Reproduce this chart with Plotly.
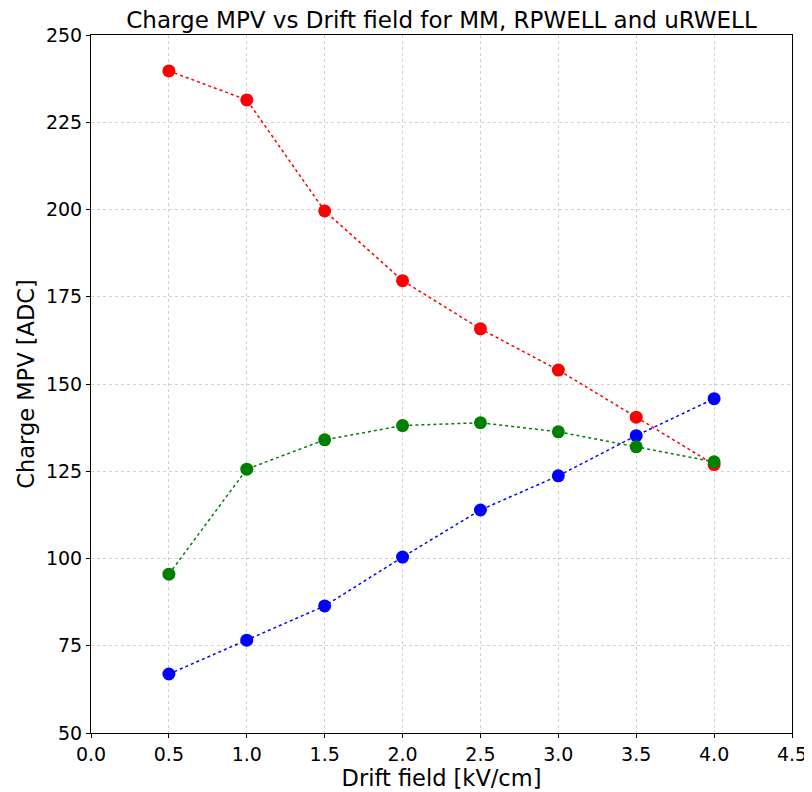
import plotly.graph_objects as go

drift_field = [0.5, 1.0, 1.5, 2.0, 2.5, 3.0, 3.5, 4.0]
mm_mpv = [239.7, 231.4, 199.6, 179.6, 165.8, 154.0, 140.5, 126.9]
rpwell_mpv = [66.9, 76.6, 86.4, 100.4, 113.9, 123.7, 135.2, 145.8]
urwell_mpv = [95.5, 125.6, 134.0, 138.1, 138.9, 136.3, 132.0, 127.7]

series = [
    ("MM", mm_mpv, "red"),
    ("RPWELL", rpwell_mpv, "blue"),
    ("uRWELL", urwell_mpv, "green"),
]

fig = go.Figure()
for name, vals, col in series:
    fig.add_trace(go.Scatter(
        x=drift_field, y=vals, name=name, mode="lines+markers",
        line=dict(color=col, width=1.5, dash="dot"),
        marker=dict(color=col, size=13),
    ))

axis_common = dict(
    showline=True, linecolor="black", linewidth=1, mirror=True,
    ticks="outside", ticklen=4, tickcolor="black",
    showgrid=True, gridcolor="#d2d2d2", griddash="dot", gridwidth=1,
    zeroline=False, tickfont=dict(size=19, color="black"),
    automargin=False,
)

# page body has an 8px default margin; figure is sized to compensate
fig.update_layout(
    width=804, height=784,
    margin=dict(l=83, r=20, t=27, b=59),
    paper_bgcolor="white", plot_bgcolor="white",
    font=dict(family="DejaVu Sans", color="black"),
    showlegend=False,
    title=dict(text="Charge MPV vs Drift field for MM, RPWELL and uRWELL",
               x=0.5, xref="paper", xanchor="center",
               y=1, yref="paper", yanchor="bottom", pad=dict(b=7),
               font=dict(size=23)),
    xaxis=dict(range=[0, 4.5], tickvals=[0, 0.5, 1, 1.5, 2, 2.5, 3, 3.5, 4, 4.5],
               ticktext=["0.0", "0.5", "1.0", "1.5", "2.0", "2.5", "3.0", "3.5", "4.0", "4.5"],
               title=dict(text="Drift field [kV/cm]", font=dict(size=22.5), standoff=3),
               **axis_common),
    yaxis=dict(range=[50, 250], tickvals=[50, 75, 100, 125, 150, 175, 200, 225, 250],
               title=dict(text="Charge MPV [ADC]", font=dict(size=22.5), standoff=5),
               **axis_common),
)

fig.write_html("out.html")
